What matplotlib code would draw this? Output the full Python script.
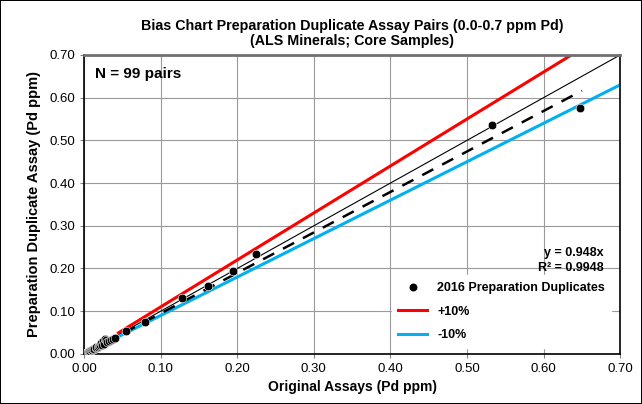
import matplotlib
matplotlib.use('Agg')
import matplotlib.pyplot as plt
import numpy as np

plt.rcParams['font.family'] = ['Liberation Sans', 'DejaVu Sans']

# duplicate pairs (original, duplicate) in Pd ppm
orig = [0.002, 0.003, 0.004, 0.005, 0.006, 0.007, 0.008, 0.009, 0.010, 0.012,
        0.013, 0.015, 0.016, 0.018, 0.020, 0.021, 0.022, 0.023, 0.025, 0.026,
        0.027, 0.028, 0.030, 0.032, 0.035, 0.038, 0.040, 0.055, 0.080, 0.128,
        0.162, 0.195, 0.225, 0.533, 0.648]
dup = [0.002, 0.003, 0.003, 0.004, 0.005, 0.006, 0.007, 0.008, 0.010, 0.011,
       0.012, 0.013, 0.015, 0.016, 0.018, 0.022, 0.025, 0.020, 0.030, 0.024,
       0.035, 0.033, 0.028, 0.030, 0.032, 0.036, 0.038, 0.053, 0.075, 0.130,
       0.160, 0.195, 0.235, 0.535, 0.575]

slope = 0.948
r2 = 0.9948
n_pairs = 99

fig = plt.figure(figsize=(6.42, 4.04), dpi=100)
fig.patch.set_edgecolor('black')
fig.patch.set_linewidth(1.2)
ax = fig.add_axes([0.131, 0.124, 0.835, 0.740])

ax.set_xlim(0, 0.7)
ax.set_ylim(0, 0.7)
ticks = np.arange(0, 0.71, 0.1)
ax.set_xticks(ticks)
ax.set_yticks(ticks)
ax.set_xticklabels(['%.2f' % t for t in ticks], fontsize=9.5)
ax.set_yticklabels(['%.2f' % t for t in ticks], fontsize=9.5)
ax.grid(True, color='#9a9a9a', linewidth=0.8)
ax.set_axisbelow(True)
ax.tick_params(length=3, color='#808080')
for s in ax.spines.values():
    s.set_color('black')
    s.set_linewidth(1.2)
ax.spines['top'].set_color('#707070')
ax.spines['top'].set_linewidth(2)

# 1:1 line
ax.plot([0, 0.7], [0, 0.7], color='black', linewidth=0.8, zorder=2)
# +/-10% lines
x_lo = 0.045
ax.plot([x_lo, 0.7 / 1.1], [x_lo * 1.1, 0.7], color='#ff0000', linewidth=2.2, zorder=2)
ax.plot([x_lo, 0.7], [x_lo * 0.9, 0.63], color='#00b0f0', linewidth=2.2, zorder=2)
# regression line
xf = np.array([0, 0.65])
ax.plot(xf, slope * xf, color='black', linewidth=1.8, dashes=(5, 4), zorder=3)

ax.scatter(orig, dup, s=38, color='black', edgecolors='white', linewidths=0.4, zorder=4)

ax.text(0.02, 0.96, 'N = %d pairs' % n_pairs, transform=ax.transAxes,
        fontsize=11, fontweight='bold', va='top')
ax.text(0.97, 0.327, 'y = %.3fx' % slope, transform=ax.transAxes,
        fontsize=9, fontweight='bold', ha='right')
ax.text(0.97, 0.277, 'R² = %.4f' % r2, transform=ax.transAxes,
        fontsize=9, fontweight='bold', ha='right')

# legend handles
h_pts = ax.scatter([], [], s=22, color='black', label='2016 Preparation Duplicates')
h_up, = ax.plot([], [], color='#ff0000', linewidth=2.2, label='+10%')
h_dn, = ax.plot([], [], color='#00b0f0', linewidth=2.2, label='-10%')
leg = ax.legend(handles=[h_pts, h_up, h_dn], loc='lower right',
                bbox_to_anchor=(0.995, 0.0), frameon=True, fancybox=False,
                edgecolor='white', framealpha=1, handlelength=2.3,
                prop={'weight': 'bold', 'size': 9}, labelspacing=0.95,
                borderpad=0.5)

ax.set_xlabel('Original Assays (Pd ppm)', fontsize=10, fontweight='bold', labelpad=4)
ax.set_ylabel('Preparation Duplicate Assay (Pd ppm)', fontsize=10.5, fontweight='bold', labelpad=6)
ax.set_title('Bias Chart Preparation Duplicate Assay Pairs (0.0-0.7 ppm Pd)\n(ALS Minerals; Core Samples)',
             fontsize=10.3, fontweight='bold', pad=7, linespacing=1.15)

fig.savefig('out.png', dpi=100, edgecolor=fig.get_edgecolor())
